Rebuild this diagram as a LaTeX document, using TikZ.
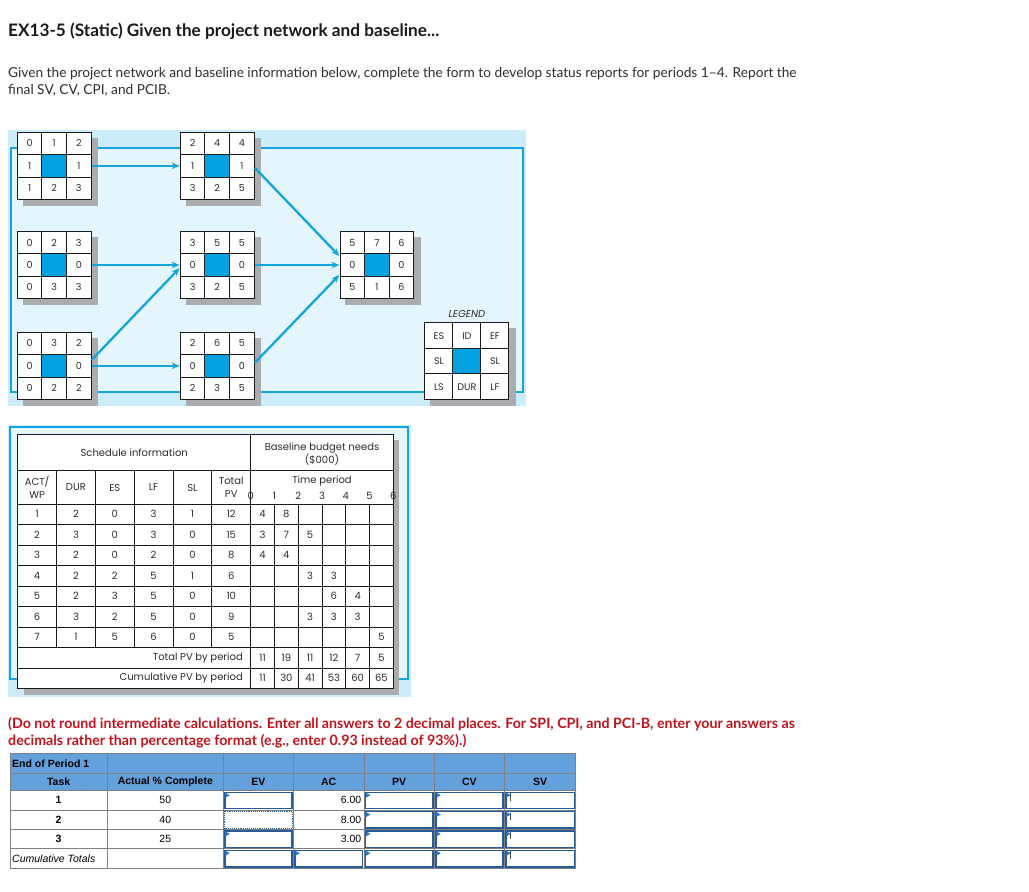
\documentclass[tikz,border=0pt]{standalone}
\usepackage{fontspec}
\setmainfont{Lato}
\newfontfamily\netfont{Poppins}
\newfontfamily\formfont{Liberation Sans}
\usetikzlibrary{arrows.meta,matrix,backgrounds}

\definecolor{netblue}{RGB}{0,163,224}
\definecolor{linkblue}{RGB}{20,165,222}
\definecolor{paleblue}{RGB}{228,245,252}
\definecolor{edgeblue}{RGB}{204,236,249}
\definecolor{shadowgray}{RGB}{170,172,175}
\definecolor{warnred}{RGB}{192,18,28}
\definecolor{headblue}{RGB}{99,160,220}
\definecolor{gridgray}{RGB}{128,128,128}
\definecolor{boxblue}{RGB}{40,90,150}
\definecolor{flagblue}{RGB}{40,120,220}
\definecolor{inktext}{RGB}{45,45,45}

\begin{document}
\begin{tikzpicture}[x=1pt, y=-1pt,
  txt/.style={inner sep=0pt, anchor=base west},
  cell/.style={draw=black!90, fill=white, line width=1pt, minimum width=24.6pt,
    minimum height=22.4pt, inner sep=0pt, text height=6.9pt, text depth=0pt,
    text=inktext, font=\netfont\fontsize{9.6}{11}\selectfont},
  mid/.style={fill=netblue},
  actbox/.style={matrix of nodes, nodes in empty cells, inner sep=0pt,
    column sep=-1pt, row sep=-1pt, nodes={cell}},
  legbox/.style={actbox, nodes={minimum width=28pt, minimum height=25.5pt,
    text height=6.9pt, font=\netfont\fontsize{9.6}{11}\selectfont}},
  link/.style={linkblue, line width=2.3pt, -{Stealth[length=8pt, width=6.5pt]}},
  tline/.style={black!90, line width=0.9pt},
  tcell/.style={inner sep=0pt, text=inktext, font=\netfont\fontsize{10}{13}\selectfont},
  fline/.style={gridgray, line width=0.9pt},
  fcell/.style={inner sep=0pt, text=black, font=\formfont\fontsize{10.5}{12}\selectfont},
  fhead/.style={fcell, font=\formfont\bfseries\fontsize{10.5}{12}\selectfont},
  inbox/.style={draw=boxblue, line width=1.4pt}]
\useasboundingbox (0,0) rectangle (1029,892);

\node[txt, text=black!90, font=\bfseries\fontsize{17.2}{20}\selectfont] (title) at (8,36)
  {EX13-5 (Static) Given the project network and baseline...};
\node[txt, text=inktext, font=\fontsize{13.7}{16}\selectfont] (intro1) at (8,77.5)
  {Given the project network and baseline information below, complete the form to develop status reports for periods 1--4. Report the};
\node[txt, text=inktext, font=\fontsize{13.7}{16}\selectfont] (intro2) at (8,94.5)
  {final SV, CV, CPI, and PCIB.};

\matrix[actbox] (n1) at (54.2,165.8) {0 & 1 & 2\\ 1 & |[mid]| & 1\\ 1 & 2 & 3\\};
\matrix[actbox] (n2) at (54.2,265)   {0 & 2 & 3\\ 0 & |[mid]| & 0\\ 0 & 3 & 3\\};
\matrix[actbox] (n3) at (54.2,365.8) {0 & 3 & 2\\ 0 & |[mid]| & 0\\ 0 & 2 & 2\\};
\matrix[actbox] (n4) at (217.2,165.8){2 & 4 & 4\\ 1 & |[mid]| & 1\\ 3 & 2 & 5\\};
\matrix[actbox] (n5) at (217.2,265)  {3 & 5 & 5\\ 0 & |[mid]| & 0\\ 3 & 2 & 5\\};
\matrix[actbox] (n6) at (217.2,365.8){2 & 6 & 5\\ 0 & |[mid]| & 0\\ 2 & 3 & 5\\};
\matrix[actbox] (n7) at (376.9,265)  {5 & 7 & 6\\ 0 & |[mid]| & 0\\ 5 & 1 & 6\\};
\node[tcell, font=\netfont\itshape\fontsize{10}{12}\selectfont] (legtitle) at (466.9,314) {LEGEND};
\matrix[legbox] (leg) at (466.9,361.2) {ES & ID & EF\\ SL & |[mid]| & SL\\ LS & DUR & LF\\};

\draw[link] (n1.east) -- (n4.west);
\draw[link] (n2.east) -- (n5.west);
\draw[link] ([yshift=6pt]n3.east) -- ([yshift=-3pt]n5.west);
\draw[link] (n3.east) -- (n6.west);
\draw[link] ([yshift=-2pt]n4.east) -- ([yshift=9pt]n7.west);
\draw[link] (n5.east) -- (n7.west);
\draw[link] ([yshift=3pt]n6.east) -- ([yshift=-10pt]n7.west);

\begin{scope}[on background layer]
  \fill[edgeblue] (7.7,130) rectangle (526,405.7);
  \draw[linkblue, line width=1.8pt, fill=paleblue] (11,147.7) rectangle (523.3,391.7);
  \foreach \n in {n1,n2,n3,n4,n5,n6,n7,leg}
    \fill[shadowgray] ([xshift=6pt,yshift=-6pt]\n.north west) rectangle ([xshift=6pt,yshift=-6pt]\n.south east);
  \fill[edgeblue] (7.5,424.5) rectangle (411,697);
  \draw[linkblue, line width=1.8pt, fill=paleblue] (10,427.3) rectangle (408,679);
  \fill[shadowgray] (23.7,440) rectangle (399.3,694.5);
  \fill[white] (17.7,434) rectangle (393.3,688.5);
\end{scope}

\draw[tline] (17.7,434) rectangle (393.3,688.5);
\foreach \yy in {470.7,504,524.5,545,565.5,586,606.5,627,647.5,668}
  \draw[tline] (17.7,\yy) -- (393.3,\yy);
\foreach \i in {1,...,5}
  \draw[tline] ({17.7+38.83*\i},470.7) -- ({17.7+38.83*\i},647.5);
\draw[tline] (250.7,434) -- (250.7,688.5);
\foreach \i in {1,...,5}
  \draw[tline] ({250.7+23.77*\i},504) -- ({250.7+23.77*\i},688.5);

\node[tcell] (sched) at (134.2,453) {Schedule information};
\node[tcell, align=center] (budget) at (322,454.5) {Baseline budget needs\\(\$000)};
\foreach \lab [count=\c] in {{ACT/\\WP},DUR,ES,LF,SL,{Total\\PV}}
  \node[tcell, align=center] (h\c) at ({17.7+38.83*(\c-0.5)},487.5) {\lab};
\node[tcell] (tperiod) at (322,481) {Time period};
\foreach \t in {0,...,6}
  \node[tcell] (tp\t) at ({250.7+23.77*\t},496) {\t};

\foreach \act/\dur/\es/\lf/\sl/\pv [count=\r] in
  {1/2/0/3/1/12, 2/3/0/3/0/15, 3/2/0/2/0/8, 4/2/2/5/1/6, 5/2/3/5/0/10, 6/3/2/5/0/9, 7/1/5/6/0/5}
  \foreach \v [count=\c] in {\act,\dur,\es,\lf,\sl,\pv}
    \node[tcell] (s\r-\c) at ({17.7+38.83*(\c-0.5)},{504+20.5*(\r-0.5)}) {\v};
\foreach \r/\c/\v in {1/1/4, 1/2/8, 2/1/3, 2/2/7, 2/3/5, 3/1/4, 3/2/4, 4/3/3, 4/4/3,
    5/4/6, 5/5/4, 6/3/3, 6/4/3, 6/5/3, 7/6/5}
  \node[tcell] (p\r-\c) at ({250.7+23.77*(\c-0.5)},{504+20.5*(\r-0.5)}) {\v};

\node[tcell, anchor=east] (totpv) at (243,657.7) {Total PV by period};
\node[tcell, anchor=east] (cumpv) at (243,678.2) {Cumulative PV by period};
\foreach \v [count=\c] in {11,19,11,12,7,5}
  \node[tcell] (tot\c) at ({250.7+23.77*(\c-0.5)},657.7) {\v};
\foreach \v [count=\c] in {11,30,41,53,60,65}
  \node[tcell] (cum\c) at ({250.7+23.77*(\c-0.5)},678.2) {\v};

\node[txt, text=warnred, font=\bfseries\fontsize{14.2}{16}\selectfont] (note1) at (8,728.5)
  {(Do not round intermediate calculations. Enter all answers to 2 decimal places. For SPI, CPI, and PCI-B, enter your answers as};
\node[txt, text=warnred, font=\bfseries\fontsize{14.2}{16}\selectfont] (note2) at (8,745.5)
  {decimals rather than percentage format (e.g., enter 0.93 instead of 93\%).)};

\fill[headblue] (10,753.3) rectangle (575.7,790.7);
\draw[fline] (10,753.3) rectangle (575.7,868.3);
\foreach \yy in {773.3,790.7,810,829.3,848.7}
  \draw[fline] (10,\yy) -- (575.7,\yy);
\foreach \xx in {107.3,223.3,293.3,364,434.3,504.3}
  \draw[fline] (\xx,753.3) -- (\xx,868.3);

\node[fhead, anchor=west] (period) at (12,763.3) {End of Period 1};
\foreach \xa/\xb/\lab [count=\c] in {10/107.3/Task, 107.3/223.3/Actual \% Complete,
    223.3/293.3/EV, 293.3/364/AC, 364/434.3/PV, 434.3/504.3/CV, 504.3/575.7/SV}
  \node[fhead] (fh\c) at ({(\xa+\xb)/2},782) {\lab};
\foreach \t/\pc/\ac/\yy [count=\r] in {1/50/6.00/800.35, 2/40/8.00/819.65, 3/25/3.00/839}
{
  \node[fhead] (task\r) at (58.6,\yy) {\t};
  \node[fcell] (pct\r) at (165.3,\yy) {\pc};
  \node[fcell, anchor=east] (ac\r) at (361.5,\yy) {\ac};
}
\node[fcell, anchor=west, font=\formfont\itshape\fontsize{10.5}{12}\selectfont] (cumtot) at (12,858.5) {Cumulative Totals};

\foreach \xa/\xb in {364/434.3, 434.3/504.3, 504.3/575.7}
  \foreach \ya/\yb in {790.7/810, 810/829.3, 829.3/848.7, 848.7/868.3}
  {
    \draw[inbox] (\xa+1.5,\ya+1.5) rectangle (\xb-1.5,\yb-1.5);
    \fill[flagblue] (\xa+2,\ya+2) -- (\xa+6.5,\ya+4.5) -- (\xa+2,\ya+7) -- cycle;
  }
\foreach \ya/\yb in {790.7/810, 829.3/848.7, 848.7/868.3}
{
  \draw[inbox] (224.8,\ya+1.5) rectangle (291.8,\yb-1.5);
  \fill[flagblue] (225.3,\ya+2) -- (229.8,\ya+4.5) -- (225.3,\ya+7) -- cycle;
}
\draw[boxblue, densely dotted, line width=0.9pt] (224.5,811) rectangle (292.3,828.3);
\draw[inbox] (294.8,850.2) rectangle (362.5,866.8);
\fill[flagblue] (295.3,850.7) -- (299.8,853.2) -- (295.3,855.7) -- cycle;
\foreach \ya in {790.7, 810, 829.3, 848.7}
  \draw[black!70, line width=0.7pt] (510,\ya+2.5) -- (510,\ya+10);
\end{tikzpicture}
\end{document}
